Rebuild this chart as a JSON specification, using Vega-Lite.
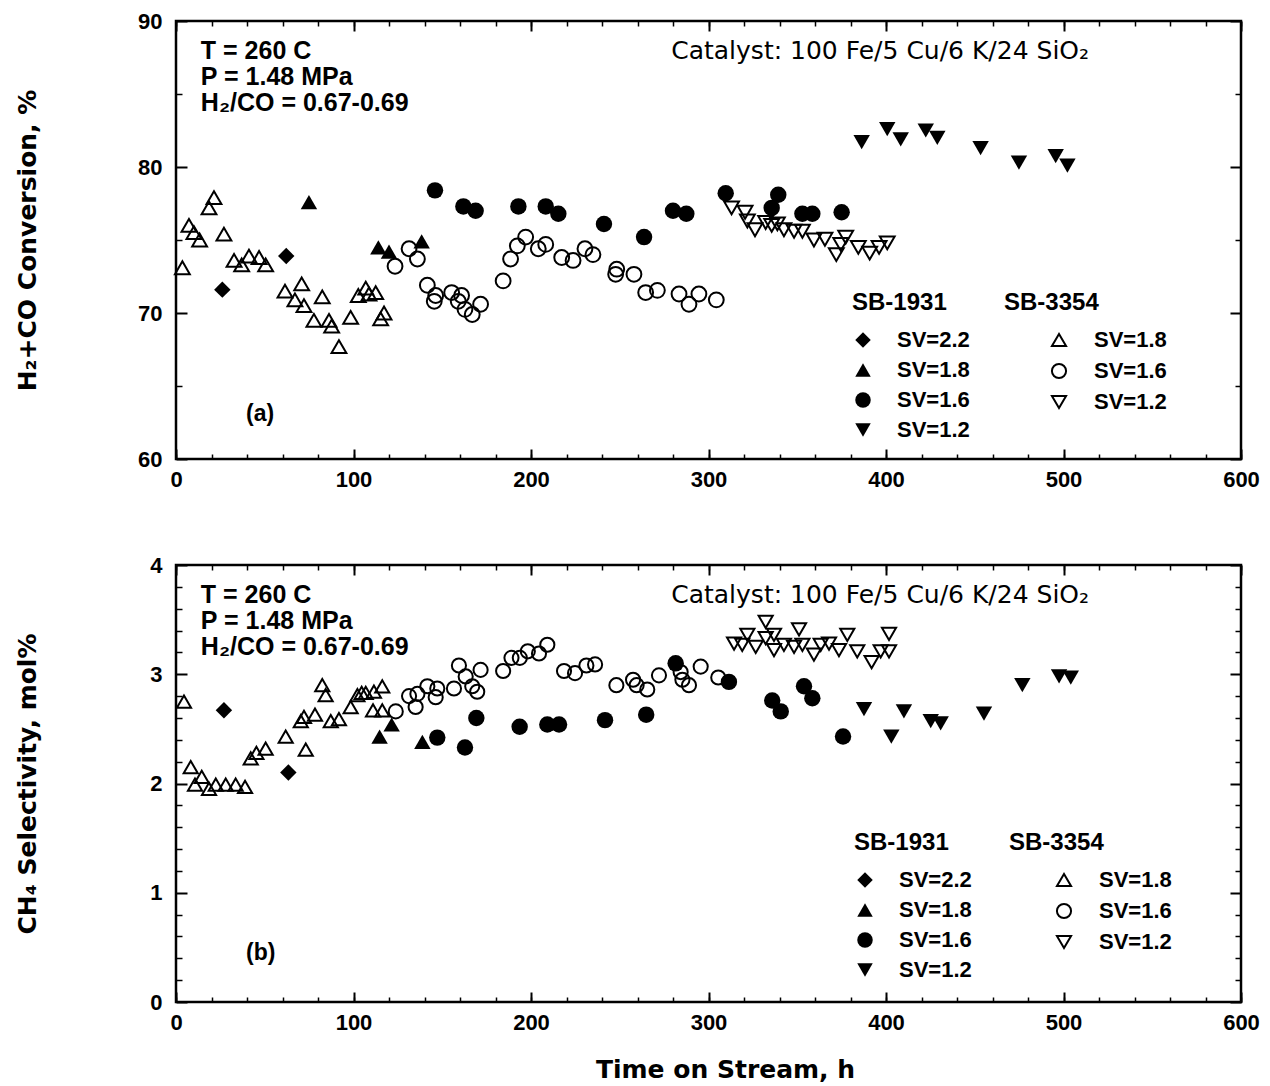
{
  "$schema": "https://vega.github.io/schema/vega-lite/v6.json",
  "background": "white",
  "padding": {"left": 14, "top": 8, "right": 5, "bottom": 5},
  "config": {
    "view": {"stroke": "black", "strokeWidth": 2.5},
    "axis": {"grid": false, "domain": false, "tickColor": "black", "labelColor": "black", "titleColor": "black", "labelFont": "Liberation Sans", "labelFontWeight": "bold", "labelFontSize": 22, "titleFont": "DejaVu Sans", "titleFontWeight": "bold", "titleFontSize": 25, "labelFlush": false, "labelOverlap": false},
    "legend": {"orient": "none", "padding": 0, "titleFont": "Liberation Sans", "titleFontWeight": "bold", "titleFontSize": 24, "titleColor": "black", "labelFont": "Liberation Sans", "labelFontWeight": "bold", "labelFontSize": 22, "labelColor": "black", "symbolSize": 240, "rowPadding": 8, "titlePadding": 14, "symbolOpacity": 1}
  },
  "datasets": {
    "conv1931": [
      {"t": 26.1, "v": 71.6, "sv": "SV=2.2"}, {"t": 62.1, "v": 73.9, "sv": "SV=2.2"},
      {"t": 74.9, "v": 77.6, "sv": "SV=1.8"}, {"t": 114.0, "v": 74.5, "sv": "SV=1.8"}, {"t": 120.0, "v": 74.2, "sv": "SV=1.8"}, {"t": 138.4, "v": 74.9, "sv": "SV=1.8"},
      {"t": 145.9, "v": 78.4, "sv": "SV=1.6"}, {"t": 161.9, "v": 77.3, "sv": "SV=1.6"}, {"t": 168.8, "v": 77.0, "sv": "SV=1.6"}, {"t": 192.9, "v": 77.3, "sv": "SV=1.6"}, {"t": 208.3, "v": 77.3, "sv": "SV=1.6"}, {"t": 215.4, "v": 76.8, "sv": "SV=1.6"}, {"t": 241.1, "v": 76.1, "sv": "SV=1.6"}, {"t": 263.7, "v": 75.2, "sv": "SV=1.6"}, {"t": 280.0, "v": 77.0, "sv": "SV=1.6"}, {"t": 287.5, "v": 76.8, "sv": "SV=1.6"}, {"t": 309.7, "v": 78.2, "sv": "SV=1.6"}, {"t": 335.6, "v": 77.2, "sv": "SV=1.6"}, {"t": 339.3, "v": 78.1, "sv": "SV=1.6"}, {"t": 352.9, "v": 76.8, "sv": "SV=1.6"}, {"t": 358.5, "v": 76.8, "sv": "SV=1.6"}, {"t": 375.0, "v": 76.9, "sv": "SV=1.6"},
      {"t": 386.3, "v": 81.7, "sv": "SV=1.2"}, {"t": 400.7, "v": 82.6, "sv": "SV=1.2"}, {"t": 408.3, "v": 81.9, "sv": "SV=1.2"}, {"t": 422.4, "v": 82.5, "sv": "SV=1.2"}, {"t": 428.9, "v": 82.0, "sv": "SV=1.2"}, {"t": 453.3, "v": 81.3, "sv": "SV=1.2"}, {"t": 474.9, "v": 80.3, "sv": "SV=1.2"}, {"t": 495.6, "v": 80.75, "sv": "SV=1.2"}, {"t": 502.2, "v": 80.1, "sv": "SV=1.2"}
    ],
    "conv3354": [
      {"t": 3.6, "v": 73.1, "sv": "SV=1.8"}, {"t": 7.3, "v": 76.0, "sv": "SV=1.8"}, {"t": 10.1, "v": 75.5, "sv": "SV=1.8"}, {"t": 13.3, "v": 75.0, "sv": "SV=1.8"}, {"t": 18.6, "v": 77.2, "sv": "SV=1.8"}, {"t": 21.4, "v": 77.9, "sv": "SV=1.8"}, {"t": 27.0, "v": 75.4, "sv": "SV=1.8"}, {"t": 32.7, "v": 73.6, "sv": "SV=1.8"}, {"t": 37.0, "v": 73.3, "sv": "SV=1.8"}, {"t": 41.1, "v": 73.9, "sv": "SV=1.8"}, {"t": 46.8, "v": 73.8, "sv": "SV=1.8"}, {"t": 50.5, "v": 73.3, "sv": "SV=1.8"}, {"t": 61.4, "v": 71.5, "sv": "SV=1.8"}, {"t": 67.0, "v": 70.9, "sv": "SV=1.8"}, {"t": 70.8, "v": 72.0, "sv": "SV=1.8"}, {"t": 72.1, "v": 70.5, "sv": "SV=1.8"}, {"t": 77.7, "v": 69.5, "sv": "SV=1.8"}, {"t": 82.4, "v": 71.1, "sv": "SV=1.8"}, {"t": 86.2, "v": 69.5, "sv": "SV=1.8"}, {"t": 87.7, "v": 69.1, "sv": "SV=1.8"}, {"t": 91.8, "v": 67.7, "sv": "SV=1.8"}, {"t": 98.4, "v": 69.7, "sv": "SV=1.8"}, {"t": 102.7, "v": 71.2, "sv": "SV=1.8"}, {"t": 106.9, "v": 71.7, "sv": "SV=1.8"}, {"t": 108.7, "v": 71.3, "sv": "SV=1.8"}, {"t": 112.5, "v": 71.4, "sv": "SV=1.8"}, {"t": 115.3, "v": 69.6, "sv": "SV=1.8"}, {"t": 117.2, "v": 70.0, "sv": "SV=1.8"},
      {"t": 123.4, "v": 73.2, "sv": "SV=1.6"}, {"t": 131.3, "v": 74.4, "sv": "SV=1.6"}, {"t": 136.0, "v": 73.7, "sv": "SV=1.6"}, {"t": 141.6, "v": 71.9, "sv": "SV=1.6"}, {"t": 146.3, "v": 71.2, "sv": "SV=1.6"}, {"t": 145.5, "v": 70.8, "sv": "SV=1.6"}, {"t": 155.3, "v": 71.4, "sv": "SV=1.6"}, {"t": 159.0, "v": 70.8, "sv": "SV=1.6"}, {"t": 160.9, "v": 71.2, "sv": "SV=1.6"}, {"t": 162.8, "v": 70.25, "sv": "SV=1.6"}, {"t": 166.9, "v": 69.9, "sv": "SV=1.6"}, {"t": 171.6, "v": 70.6, "sv": "SV=1.6"}, {"t": 184.3, "v": 72.2, "sv": "SV=1.6"}, {"t": 188.5, "v": 73.7, "sv": "SV=1.6"}, {"t": 192.3, "v": 74.6, "sv": "SV=1.6"}, {"t": 197.0, "v": 75.2, "sv": "SV=1.6"}, {"t": 204.1, "v": 74.4, "sv": "SV=1.6"}, {"t": 208.3, "v": 74.7, "sv": "SV=1.6"}, {"t": 217.3, "v": 73.8, "sv": "SV=1.6"}, {"t": 223.7, "v": 73.6, "sv": "SV=1.6"}, {"t": 230.4, "v": 74.4, "sv": "SV=1.6"}, {"t": 234.9, "v": 74.0, "sv": "SV=1.6"}, {"t": 247.7, "v": 72.65, "sv": "SV=1.6"}, {"t": 248.3, "v": 73.0, "sv": "SV=1.6"}, {"t": 258.0, "v": 72.65, "sv": "SV=1.6"}, {"t": 264.6, "v": 71.4, "sv": "SV=1.6"}, {"t": 271.2, "v": 71.55, "sv": "SV=1.6"}, {"t": 283.4, "v": 71.3, "sv": "SV=1.6"}, {"t": 289.0, "v": 70.6, "sv": "SV=1.6"}, {"t": 294.6, "v": 71.3, "sv": "SV=1.6"}, {"t": 304.4, "v": 70.9, "sv": "SV=1.6"},
      {"t": 313.0, "v": 77.2, "sv": "SV=1.2"}, {"t": 320.6, "v": 76.9, "sv": "SV=1.2"}, {"t": 321.9, "v": 76.3, "sv": "SV=1.2"}, {"t": 326.2, "v": 75.7, "sv": "SV=1.2"}, {"t": 332.2, "v": 76.2, "sv": "SV=1.2"}, {"t": 335.6, "v": 76.0, "sv": "SV=1.2"}, {"t": 338.8, "v": 76.1, "sv": "SV=1.2"}, {"t": 342.5, "v": 75.7, "sv": "SV=1.2"}, {"t": 348.2, "v": 75.6, "sv": "SV=1.2"}, {"t": 352.9, "v": 75.6, "sv": "SV=1.2"}, {"t": 359.4, "v": 75.0, "sv": "SV=1.2"}, {"t": 365.6, "v": 75.05, "sv": "SV=1.2"}, {"t": 372.0, "v": 74.0, "sv": "SV=1.2"}, {"t": 374.5, "v": 74.7, "sv": "SV=1.2"}, {"t": 377.3, "v": 75.2, "sv": "SV=1.2"}, {"t": 384.4, "v": 74.5, "sv": "SV=1.2"}, {"t": 390.8, "v": 74.1, "sv": "SV=1.2"}, {"t": 396.1, "v": 74.5, "sv": "SV=1.2"}, {"t": 400.7, "v": 74.8, "sv": "SV=1.2"}
    ],
    "sel1931": [
      {"t": 27.0, "v": 2.67, "sv": "SV=2.2"}, {"t": 63.3, "v": 2.10, "sv": "SV=2.2"},
      {"t": 114.7, "v": 2.43, "sv": "SV=1.8"}, {"t": 121.5, "v": 2.54, "sv": "SV=1.8"}, {"t": 138.8, "v": 2.38, "sv": "SV=1.8"},
      {"t": 147.2, "v": 2.42, "sv": "SV=1.6"}, {"t": 162.8, "v": 2.33, "sv": "SV=1.6"}, {"t": 169.2, "v": 2.60, "sv": "SV=1.6"}, {"t": 193.6, "v": 2.52, "sv": "SV=1.6"}, {"t": 209.2, "v": 2.54, "sv": "SV=1.6"}, {"t": 215.8, "v": 2.54, "sv": "SV=1.6"}, {"t": 241.7, "v": 2.58, "sv": "SV=1.6"}, {"t": 264.9, "v": 2.63, "sv": "SV=1.6"}, {"t": 281.5, "v": 3.10, "sv": "SV=1.6"}, {"t": 311.5, "v": 2.93, "sv": "SV=1.6"}, {"t": 335.9, "v": 2.76, "sv": "SV=1.6"}, {"t": 340.7, "v": 2.66, "sv": "SV=1.6"}, {"t": 353.8, "v": 2.89, "sv": "SV=1.6"}, {"t": 358.5, "v": 2.78, "sv": "SV=1.6"}, {"t": 375.8, "v": 2.43, "sv": "SV=1.6"},
      {"t": 387.6, "v": 2.68, "sv": "SV=1.2"}, {"t": 403.0, "v": 2.43, "sv": "SV=1.2"}, {"t": 410.1, "v": 2.66, "sv": "SV=1.2"}, {"t": 425.2, "v": 2.57, "sv": "SV=1.2"}, {"t": 430.8, "v": 2.55, "sv": "SV=1.2"}, {"t": 455.2, "v": 2.64, "sv": "SV=1.2"}, {"t": 476.8, "v": 2.90, "sv": "SV=1.2"}, {"t": 497.5, "v": 2.98, "sv": "SV=1.2"}, {"t": 504.1, "v": 2.97, "sv": "SV=1.2"}
    ],
    "sel3354": [
      {"t": 4.5, "v": 2.75, "sv": "SV=1.8"}, {"t": 8.3, "v": 2.15, "sv": "SV=1.8"}, {"t": 10.7, "v": 1.99, "sv": "SV=1.8"}, {"t": 14.5, "v": 2.06, "sv": "SV=1.8"}, {"t": 18.6, "v": 1.95, "sv": "SV=1.8"}, {"t": 22.4, "v": 1.99, "sv": "SV=1.8"}, {"t": 28.0, "v": 1.99, "sv": "SV=1.8"}, {"t": 33.6, "v": 1.99, "sv": "SV=1.8"}, {"t": 38.9, "v": 1.97, "sv": "SV=1.8"}, {"t": 42.1, "v": 2.23, "sv": "SV=1.8"}, {"t": 45.3, "v": 2.28, "sv": "SV=1.8"}, {"t": 50.5, "v": 2.32, "sv": "SV=1.8"}, {"t": 61.8, "v": 2.43, "sv": "SV=1.8"}, {"t": 70.3, "v": 2.57, "sv": "SV=1.8"}, {"t": 72.1, "v": 2.61, "sv": "SV=1.8"}, {"t": 73.1, "v": 2.31, "sv": "SV=1.8"}, {"t": 78.3, "v": 2.63, "sv": "SV=1.8"}, {"t": 82.4, "v": 2.90, "sv": "SV=1.8"}, {"t": 84.3, "v": 2.81, "sv": "SV=1.8"}, {"t": 87.2, "v": 2.57, "sv": "SV=1.8"}, {"t": 91.8, "v": 2.59, "sv": "SV=1.8"}, {"t": 98.4, "v": 2.70, "sv": "SV=1.8"}, {"t": 102.2, "v": 2.81, "sv": "SV=1.8"}, {"t": 104.6, "v": 2.83, "sv": "SV=1.8"}, {"t": 106.9, "v": 2.83, "sv": "SV=1.8"}, {"t": 111.5, "v": 2.84, "sv": "SV=1.8"}, {"t": 116.2, "v": 2.89, "sv": "SV=1.8"}, {"t": 111.0, "v": 2.67, "sv": "SV=1.8"}, {"t": 116.2, "v": 2.67, "sv": "SV=1.8"},
      {"t": 123.8, "v": 2.66, "sv": "SV=1.6"}, {"t": 131.3, "v": 2.80, "sv": "SV=1.6"}, {"t": 135.0, "v": 2.70, "sv": "SV=1.6"}, {"t": 136.0, "v": 2.82, "sv": "SV=1.6"}, {"t": 141.6, "v": 2.89, "sv": "SV=1.6"}, {"t": 146.3, "v": 2.79, "sv": "SV=1.6"}, {"t": 147.2, "v": 2.87, "sv": "SV=1.6"}, {"t": 156.6, "v": 2.87, "sv": "SV=1.6"}, {"t": 159.4, "v": 3.08, "sv": "SV=1.6"}, {"t": 163.2, "v": 2.98, "sv": "SV=1.6"}, {"t": 166.9, "v": 2.89, "sv": "SV=1.6"}, {"t": 169.7, "v": 2.84, "sv": "SV=1.6"}, {"t": 171.6, "v": 3.04, "sv": "SV=1.6"}, {"t": 184.3, "v": 3.03, "sv": "SV=1.6"}, {"t": 189.0, "v": 3.15, "sv": "SV=1.6"}, {"t": 193.7, "v": 3.15, "sv": "SV=1.6"}, {"t": 198.2, "v": 3.21, "sv": "SV=1.6"}, {"t": 204.5, "v": 3.19, "sv": "SV=1.6"}, {"t": 209.2, "v": 3.27, "sv": "SV=1.6"}, {"t": 218.6, "v": 3.03, "sv": "SV=1.6"}, {"t": 224.8, "v": 3.01, "sv": "SV=1.6"}, {"t": 231.2, "v": 3.08, "sv": "SV=1.6"}, {"t": 236.1, "v": 3.09, "sv": "SV=1.6"}, {"t": 248.1, "v": 2.90, "sv": "SV=1.6"}, {"t": 257.5, "v": 2.95, "sv": "SV=1.6"}, {"t": 259.5, "v": 2.90, "sv": "SV=1.6"}, {"t": 265.5, "v": 2.86, "sv": "SV=1.6"}, {"t": 272.1, "v": 2.99, "sv": "SV=1.6"}, {"t": 284.3, "v": 3.02, "sv": "SV=1.6"}, {"t": 285.3, "v": 2.95, "sv": "SV=1.6"}, {"t": 289.0, "v": 2.90, "sv": "SV=1.6"}, {"t": 295.6, "v": 3.07, "sv": "SV=1.6"}, {"t": 305.5, "v": 2.97, "sv": "SV=1.6"},
      {"t": 314.4, "v": 3.28, "sv": "SV=1.2"}, {"t": 319.0, "v": 3.27, "sv": "SV=1.2"}, {"t": 321.9, "v": 3.36, "sv": "SV=1.2"}, {"t": 326.6, "v": 3.25, "sv": "SV=1.2"}, {"t": 332.2, "v": 3.48, "sv": "SV=1.2"}, {"t": 332.2, "v": 3.33, "sv": "SV=1.2"}, {"t": 336.9, "v": 3.36, "sv": "SV=1.2"}, {"t": 336.9, "v": 3.22, "sv": "SV=1.2"}, {"t": 342.5, "v": 3.27, "sv": "SV=1.2"}, {"t": 348.2, "v": 3.25, "sv": "SV=1.2"}, {"t": 351.0, "v": 3.41, "sv": "SV=1.2"}, {"t": 352.9, "v": 3.27, "sv": "SV=1.2"}, {"t": 359.4, "v": 3.18, "sv": "SV=1.2"}, {"t": 363.2, "v": 3.27, "sv": "SV=1.2"}, {"t": 367.9, "v": 3.28, "sv": "SV=1.2"}, {"t": 373.5, "v": 3.22, "sv": "SV=1.2"}, {"t": 378.2, "v": 3.36, "sv": "SV=1.2"}, {"t": 383.8, "v": 3.21, "sv": "SV=1.2"}, {"t": 391.9, "v": 3.11, "sv": "SV=1.2"}, {"t": 397.0, "v": 3.21, "sv": "SV=1.2"}, {"t": 401.7, "v": 3.37, "sv": "SV=1.2"}, {"t": 401.7, "v": 3.21, "sv": "SV=1.2"}
    ]
  },
  "spacing": 60,
  "resolve": {"scale": {"shape": "independent"}, "legend": {"shape": "independent"}},
  "vconcat": [
    {
      "width": 1065,
      "height": 438,
      "resolve": {"axis": {"x": "independent", "y": "independent"}, "scale": {"shape": "independent"}, "legend": {"shape": "independent"}},
      "layer": [
        {
          "data": {"name": "conv1931"},
          "mark": {"type": "point", "filled": true, "color": "black", "opacity": 1, "size": 270},
          "encoding": {
            "x": {"field": "t", "type": "quantitative", "scale": {"domain": [0, 600], "nice": false, "zero": false}, "axis": {"orient": "bottom", "values": [0, 100, 200, 300, 400, 500, 600], "tickSize": -10, "tickWidth": 2, "labelPadding": 20, "title": null}},
            "y": {"field": "v", "type": "quantitative", "scale": {"domain": [60, 90], "nice": false, "zero": false}, "axis": {"orient": "left", "values": [60, 70, 80, 90], "tickSize": -11, "tickWidth": 2, "labelPadding": 25, "title": "H₂+CO Conversion, %", "titlePadding": 97}},
            "shape": {"field": "sv", "type": "nominal", "scale": {"domain": ["SV=2.2", "SV=1.8", "SV=1.6", "SV=1.2"], "range": ["diamond", "triangle-up", "circle", "triangle-down"]}, "legend": {"title": "SB-1931", "legendX": 676, "legendY": 270, "symbolFillColor": "black", "symbolStrokeColor": "black", "symbolStrokeWidth": 0, "labelOffset": 23, "symbolOffset": 0}}
          }
        },
        {
          "data": {"name": "conv3354"},
          "mark": {"type": "point", "filled": false, "color": "black", "opacity": 1, "size": 220, "strokeWidth": 2},
          "encoding": {
            "x": {"field": "t", "type": "quantitative", "axis": {"orient": "bottom", "values": [0, 20, 40, 60, 80, 100, 120, 140, 160, 180, 200, 220, 240, 260, 280, 300, 320, 340, 360, 380, 400, 420, 440, 460, 480, 500, 520, 540, 560, 580, 600], "tickSize": -5, "tickWidth": 1.5, "labels": false, "title": null}},
            "y": {"field": "v", "type": "quantitative", "axis": {"orient": "left", "values": [65, 75, 85], "tickSize": -6, "tickWidth": 1.5, "labels": false, "title": null}},
            "shape": {"field": "sv", "type": "nominal", "scale": {"domain": ["SV=1.8", "SV=1.6", "SV=1.2"], "range": ["triangle-up", "circle", "triangle-down"]}, "legend": {"title": "SB-3354", "legendX": 828, "legendY": 270, "symbolFillColor": "transparent", "symbolStrokeColor": "black", "symbolStrokeWidth": 2, "symbolSize": 200, "labelOffset": 24, "symbolOffset": 44}}
          }
        },
        {
          "data": {"values": [{}]},
          "mark": {"type": "text", "text": ["T = 260 C", "P = 1.48 MPa", "H₂/CO = 0.67-0.69"], "align": "left", "baseline": "alphabetic", "font": "Liberation Sans", "fontWeight": "bold", "fontSize": 25, "lineHeight": 26, "color": "black"},
          "encoding": {
            "x": {"datum": 14, "type": "quantitative", "axis": {"orient": "top", "values": [0, 100, 200, 300, 400, 500, 600], "tickSize": -10, "tickWidth": 2, "labels": false, "title": null}},
            "y": {"datum": 87.4, "type": "quantitative", "axis": {"orient": "right", "values": [60, 70, 80, 90], "tickSize": -11, "tickWidth": 2, "labels": false, "title": null}}
          }
        },
        {
          "data": {"values": [{}]},
          "mark": {"type": "text", "text": "Catalyst: 100 Fe/5 Cu/6 K/24 SiO₂", "align": "left", "baseline": "alphabetic", "font": "DejaVu Sans", "fontSize": 25, "color": "black"},
          "encoding": {
            "x": {"datum": 279, "type": "quantitative", "axis": {"orient": "top", "values": [0, 20, 40, 60, 80, 100, 120, 140, 160, 180, 200, 220, 240, 260, 280, 300, 320, 340, 360, 380, 400, 420, 440, 460, 480, 500, 520, 540, 560, 580, 600], "tickSize": -5, "tickWidth": 1.5, "labels": false, "title": null}},
            "y": {"datum": 87.4, "type": "quantitative", "axis": {"orient": "right", "values": [65, 75, 85], "tickSize": -6, "tickWidth": 1.5, "labels": false, "title": null}}
          }
        },
        {
          "data": {"values": [{}]},
          "mark": {"type": "text", "text": "(a)", "align": "left", "baseline": "alphabetic", "font": "Liberation Sans", "fontWeight": "bold", "fontSize": 23, "color": "black"},
          "encoding": {
            "x": {"datum": 39.5, "type": "quantitative", "axis": null},
            "y": {"datum": 62.6, "type": "quantitative", "axis": null}
          }
        }
      ]
    },
    {
      "width": 1065,
      "height": 437,
      "resolve": {"axis": {"x": "independent", "y": "independent"}, "scale": {"shape": "independent"}, "legend": {"shape": "independent"}},
      "layer": [
        {
          "data": {"name": "sel1931"},
          "mark": {"type": "point", "filled": true, "color": "black", "opacity": 1, "size": 270},
          "encoding": {
            "x": {"field": "t", "type": "quantitative", "scale": {"domain": [0, 600], "nice": false, "zero": false}, "axis": {"orient": "bottom", "values": [0, 100, 200, 300, 400, 500, 600], "tickSize": -10, "tickWidth": 2, "labelPadding": 20, "title": "Time on Stream, h", "titlePadding": 24, "titleX": 549}},
            "y": {"field": "v", "type": "quantitative", "scale": {"domain": [0, 4], "nice": false, "zero": false}, "axis": {"orient": "left", "values": [0, 1, 2, 3, 4], "tickSize": -11, "tickWidth": 2, "labelPadding": 25, "title": "CH₄ Selectivity, mol%", "titlePadding": 109}},
            "shape": {"field": "sv", "type": "nominal", "scale": {"domain": ["SV=2.2", "SV=1.8", "SV=1.6", "SV=1.2"], "range": ["diamond", "triangle-up", "circle", "triangle-down"]}, "legend": {"title": "SB-1931", "legendX": 678, "legendY": 266, "symbolFillColor": "black", "symbolStrokeColor": "black", "symbolStrokeWidth": 0, "labelOffset": 23, "symbolOffset": 0}}
          }
        },
        {
          "data": {"name": "sel3354"},
          "mark": {"type": "point", "filled": false, "color": "black", "opacity": 1, "size": 200, "strokeWidth": 2},
          "encoding": {
            "x": {"field": "t", "type": "quantitative", "axis": {"orient": "bottom", "values": [0, 20, 40, 60, 80, 100, 120, 140, 160, 180, 200, 220, 240, 260, 280, 300, 320, 340, 360, 380, 400, 420, 440, 460, 480, 500, 520, 540, 560, 580, 600], "tickSize": -5, "tickWidth": 1.5, "labels": false, "title": null}},
            "y": {"field": "v", "type": "quantitative", "axis": {"orient": "left", "values": [0.2, 0.4, 0.6, 0.8, 1.2, 1.4, 1.6, 1.8, 2.2, 2.4, 2.6, 2.8, 3.2, 3.4, 3.6, 3.8], "tickSize": -6, "tickWidth": 1.5, "labels": false, "title": null}},
            "shape": {"field": "sv", "type": "nominal", "scale": {"domain": ["SV=1.8", "SV=1.6", "SV=1.2"], "range": ["triangle-up", "circle", "triangle-down"]}, "legend": {"title": "SB-3354", "legendX": 833, "legendY": 266, "symbolFillColor": "transparent", "symbolStrokeColor": "black", "symbolStrokeWidth": 2, "symbolSize": 200, "labelOffset": 24, "symbolOffset": 44}}
          }
        },
        {
          "data": {"values": [{}]},
          "mark": {"type": "text", "text": ["T = 260 C", "P = 1.48 MPa", "H₂/CO = 0.67-0.69"], "align": "left", "baseline": "alphabetic", "font": "Liberation Sans", "fontWeight": "bold", "fontSize": 25, "lineHeight": 26, "color": "black"},
          "encoding": {
            "x": {"datum": 14, "type": "quantitative", "axis": {"orient": "top", "values": [0, 100, 200, 300, 400, 500, 600], "tickSize": -10, "tickWidth": 2, "labels": false, "title": null}},
            "y": {"datum": 3.65, "type": "quantitative", "axis": {"orient": "right", "values": [0, 1, 2, 3, 4], "tickSize": -11, "tickWidth": 2, "labels": false, "title": null}}
          }
        },
        {
          "data": {"values": [{}]},
          "mark": {"type": "text", "text": "Catalyst: 100 Fe/5 Cu/6 K/24 SiO₂", "align": "left", "baseline": "alphabetic", "font": "DejaVu Sans", "fontSize": 25, "color": "black"},
          "encoding": {
            "x": {"datum": 279, "type": "quantitative", "axis": {"orient": "top", "values": [0, 20, 40, 60, 80, 100, 120, 140, 160, 180, 200, 220, 240, 260, 280, 300, 320, 340, 360, 380, 400, 420, 440, 460, 480, 500, 520, 540, 560, 580, 600], "tickSize": -5, "tickWidth": 1.5, "labels": false, "title": null}},
            "y": {"datum": 3.65, "type": "quantitative", "axis": {"orient": "right", "values": [0.2, 0.4, 0.6, 0.8, 1.2, 1.4, 1.6, 1.8, 2.2, 2.4, 2.6, 2.8, 3.2, 3.4, 3.6, 3.8], "tickSize": -6, "tickWidth": 1.5, "labels": false, "title": null}}
          }
        },
        {
          "data": {"values": [{}]},
          "mark": {"type": "text", "text": "(b)", "align": "left", "baseline": "alphabetic", "font": "Liberation Sans", "fontWeight": "bold", "fontSize": 23, "color": "black"},
          "encoding": {
            "x": {"datum": 39.5, "type": "quantitative", "axis": null},
            "y": {"datum": 0.384, "type": "quantitative", "axis": null}
          }
        }
      ]
    }
  ]
}
